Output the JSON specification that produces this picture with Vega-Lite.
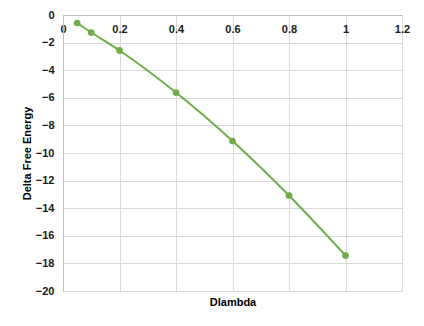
{
  "$schema": "https://vega.github.io/schema/vega-lite/v6.json",
  "width": 339,
  "height": 276,
  "autosize": {"type": "none"},
  "padding": {"left": 63, "top": 15, "right": 22, "bottom": 35},
  "background": "white",
  "data": {"values": [
    {"lambda": 0.05, "dG": -0.58},
    {"lambda": 0.1, "dG": -1.27},
    {"lambda": 0.2, "dG": -2.57},
    {"lambda": 0.4, "dG": -5.62},
    {"lambda": 0.6, "dG": -9.13},
    {"lambda": 0.8, "dG": -13.08},
    {"lambda": 1.0, "dG": -17.43}
  ]},
  "config": {
    "font": "Liberation Sans",
    "view": {"stroke": "#d9d9d9", "strokeWidth": 1},
    "axis": {
      "gridColor": "#d9d9d9",
      "gridWidth": 1,
      "domainColor": "#bfbfbf",
      "ticks": false,
      "labelOverlap": false,
      "labelFont": "Liberation Sans",
      "labelFontSize": 11,
      "labelFontWeight": "bold",
      "labelColor": "#1a1a1a",
      "titleFont": "Liberation Sans",
      "titleFontSize": 11,
      "titleFontWeight": "bold",
      "titleColor": "#000000"
    }
  },
  "encoding": {
    "x": {
      "field": "lambda", "type": "quantitative",
      "scale": {"domain": [0, 1.2], "nice": false, "zero": false},
      "axis": {
        "orient": "bottom", "offset": -276,
        "values": [0, 0.2, 0.4, 0.6, 0.8, 1.0, 1.2],
        "format": "~g",
        "labelPadding": 8,
        "labelFlush": false,
        "title": "Dlambda",
        "titleY": 281,
        "titleBaseline": "top"
      }
    },
    "y": {
      "field": "dG", "type": "quantitative",
      "scale": {"domain": [-20, 0], "nice": false, "zero": false},
      "axis": {
        "values": [-20, -18, -16, -14, -12, -10, -8, -6, -4, -2, 0],
        "tickCount": 11,
        "labelPadding": 9,
        "labelFlush": false,
        "labelOverlap": false,
        "title": "Delta Free Energy",
        "titlePadding": 3
      }
    }
  },
  "layer": [
    {
      "mark": {"type": "line", "color": "#70ad47", "strokeWidth": 2, "interpolate": "monotone"}
    },
    {
      "mark": {"type": "point", "filled": true, "color": "#70ad47", "size": 45, "opacity": 1}
    }
  ]
}
